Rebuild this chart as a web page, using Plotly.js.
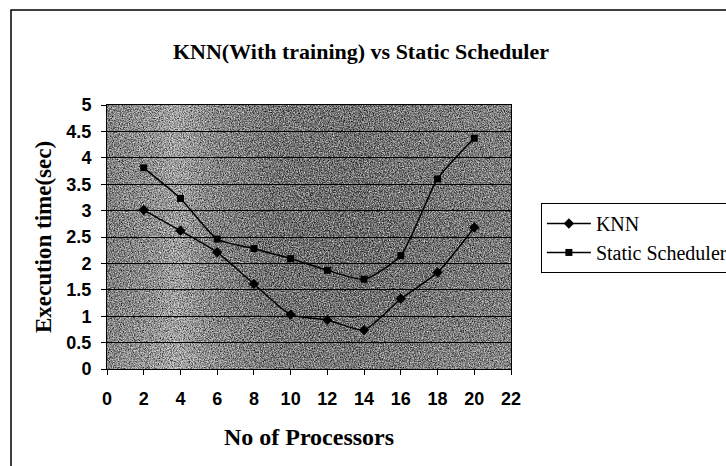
<!DOCTYPE html>
<html>
<head>
<meta charset="utf-8">
<script src="https://cdn.plot.ly/plotly-3.0.1.min.js"></script>
<style>
  html, body { margin: 0; padding: 0; background: #fff; }
  #chart { width: 726px; height: 466px; }
</style>
</head>
<body>
<div id="chart"></div>
<script>
const processors = [2, 4, 6, 8, 10, 12, 14, 16, 18, 20];
const knnTimes = [3.01, 2.62, 2.21, 1.61, 1.03, 0.93, 0.74, 1.33, 1.83, 2.68];
const staticTimes = [3.81, 3.23, 2.46, 2.28, 2.09, 1.87, 1.70, 2.15, 3.60, 4.37];
const seriesNames = ["KNN", "Static Scheduler"];
const xTickVals = [0, 2, 4, 6, 8, 10, 12, 14, 16, 18, 20, 22];
const yTickVals = [0, 0.5, 1, 1.5, 2, 2.5, 3, 3.5, 4, 4.5, 5];
const yTickText = ["0", "0.5", "1", "1.5", "2", "2.5", "3", "3.5", "4", "4.5", "5"];

const bgSvg = `<svg xmlns="http://www.w3.org/2000/svg" width="404" height="264" viewBox="0 0 404 264">
<defs>
<linearGradient id="g" x1="0" y1="0" x2="1" y2="0">
<stop offset="0" stop-color="#868686"/>
<stop offset="0.12" stop-color="#a4a4a4"/>
<stop offset="0.17" stop-color="#c0c0c0"/>
<stop offset="0.25" stop-color="#949494"/>
<stop offset="0.40" stop-color="#6e6e6e"/>
<stop offset="0.60" stop-color="#666666"/>
<stop offset="0.80" stop-color="#747474"/>
<stop offset="1" stop-color="#828282"/>
</linearGradient>
<linearGradient id="v" x1="0" y1="0" x2="0" y2="1">
<stop offset="0" stop-color="#ffffff" stop-opacity="0.05"/>
<stop offset="0.5" stop-color="#000000" stop-opacity="0.05"/>
<stop offset="1" stop-color="#ffffff" stop-opacity="0.12"/>
</linearGradient>
<filter id="n" x="0" y="0" width="100%" height="100%">
<feTurbulence type="fractalNoise" baseFrequency="0.9" numOctaves="2" seed="3" result="t"/>
<feColorMatrix type="matrix" values="0 0 0 0 0  0 0 0 0 0  0 0 0 0 0  0 0 0 1.7 -0.55" in="t"/>
</filter>
<filter id="w" x="0" y="0" width="100%" height="100%">
<feTurbulence type="fractalNoise" baseFrequency="0.8" numOctaves="2" seed="9" result="t"/>
<feColorMatrix type="matrix" values="0 0 0 0 1  0 0 0 0 1  0 0 0 0 1  0 0 0 1.6 -0.6" in="t"/>
</filter>
</defs>
<rect width="404" height="264" fill="url(#g)"/>
<rect width="404" height="264" fill="url(#v)"/>
<rect width="404" height="264" filter="url(#n)"/>
<rect width="404" height="264" filter="url(#w)"/>
</svg>`;
const bgUri = "data:image/svg+xml;charset=utf-8," + encodeURIComponent(bgSvg);

const traces = [
  {
    x: processors, y: knnTimes, name: seriesNames[0],
    type: "scatter", mode: "lines+markers",
    line: { color: "#000000", width: 1.5, shape: "spline", smoothing: 0.6 },
    marker: { symbol: "diamond", size: 8, color: "#000000" }
  },
  {
    x: processors, y: staticTimes, name: seriesNames[1],
    type: "scatter", mode: "lines+markers",
    line: { color: "#000000", width: 1.5, shape: "spline", smoothing: 0.6 },
    marker: { symbol: "square", size: 7, color: "#000000" }
  }
];

const serif = "Liberation Serif, Times New Roman, serif";
const sans = "Liberation Sans, Arial, sans-serif";

const layout = {
  width: 726, height: 466,
  margin: { l: 107, r: 215, t: 105, b: 97, pad: 0, autoexpand: false },
  paper_bgcolor: "#ffffff",
  plot_bgcolor: "#7c7c7c",
  showlegend: true,
  title: {
    text: "<b>KNN(With training) vs Static Scheduler</b>",
    font: { family: serif, size: 22, color: "#000" },
    x: 361 / 726, xanchor: "center", y: 1 - 51 / 466, yanchor: "middle"
  },
  xaxis: {
    range: [0, 22], tickvals: xTickVals, ticktext: xTickVals.map(String),
    ticks: "outside", ticklen: 5, tickcolor: "#000", tickwidth: 1,
    ticklabelstandoff: 8, automargin: false,
    showline: true, linecolor: "#000", linewidth: 1, mirror: true,
    showgrid: false, zeroline: false,
    tickfont: { family: sans, size: 18, color: "#000", weight: "bold" },
    title: {
      text: "<b>No of Processors</b>", standoff: 20,
      font: { family: serif, size: 24, color: "#000" }
    }
  },
  yaxis: {
    range: [0, 5], tickvals: yTickVals, ticktext: yTickText,
    ticks: "outside", ticklen: 5, tickcolor: "#000", tickwidth: 1,
    ticklabelstandoff: 6, automargin: false,
    showline: true, linecolor: "#000", linewidth: 1, mirror: true,
    showgrid: true, gridcolor: "#000000", gridwidth: 1, zeroline: false,
    tickfont: { family: sans, size: 18, color: "#000", weight: "bold" },
    title: {
      text: "<b>Execution time(sec)</b>", standoff: 8,
      font: { family: serif, size: 23, color: "#000" }
    }
  },
  legend: {
    x: 1.074, xanchor: "left", y: 0.629, yanchor: "top",
    bordercolor: "#000", borderwidth: 1, bgcolor: "#ffffff",
    itemwidth: 44,
    font: { family: serif, size: 20, color: "#000" }
  },
  images: [{
    source: bgUri, xref: "paper", yref: "paper", x: 0, y: 1, sizex: 1, sizey: 1,
    sizing: "stretch", xanchor: "left", yanchor: "top", layer: "below"
  }],
  shapes: [{
    type: "rect", xref: "paper", yref: "paper",
    x0: (11 - 107) / 404, x1: (760 - 107) / 404, y0: (369 - 500) / 264, y1: (369 - 10) / 264,
    line: { color: "#000", width: 1.5 }, fillcolor: "rgba(0,0,0,0)", layer: "below"
  }]
};

Plotly.newPlot("chart", traces, layout, { displayModeBar: false, staticPlot: true });
</script>
</body>
</html>
